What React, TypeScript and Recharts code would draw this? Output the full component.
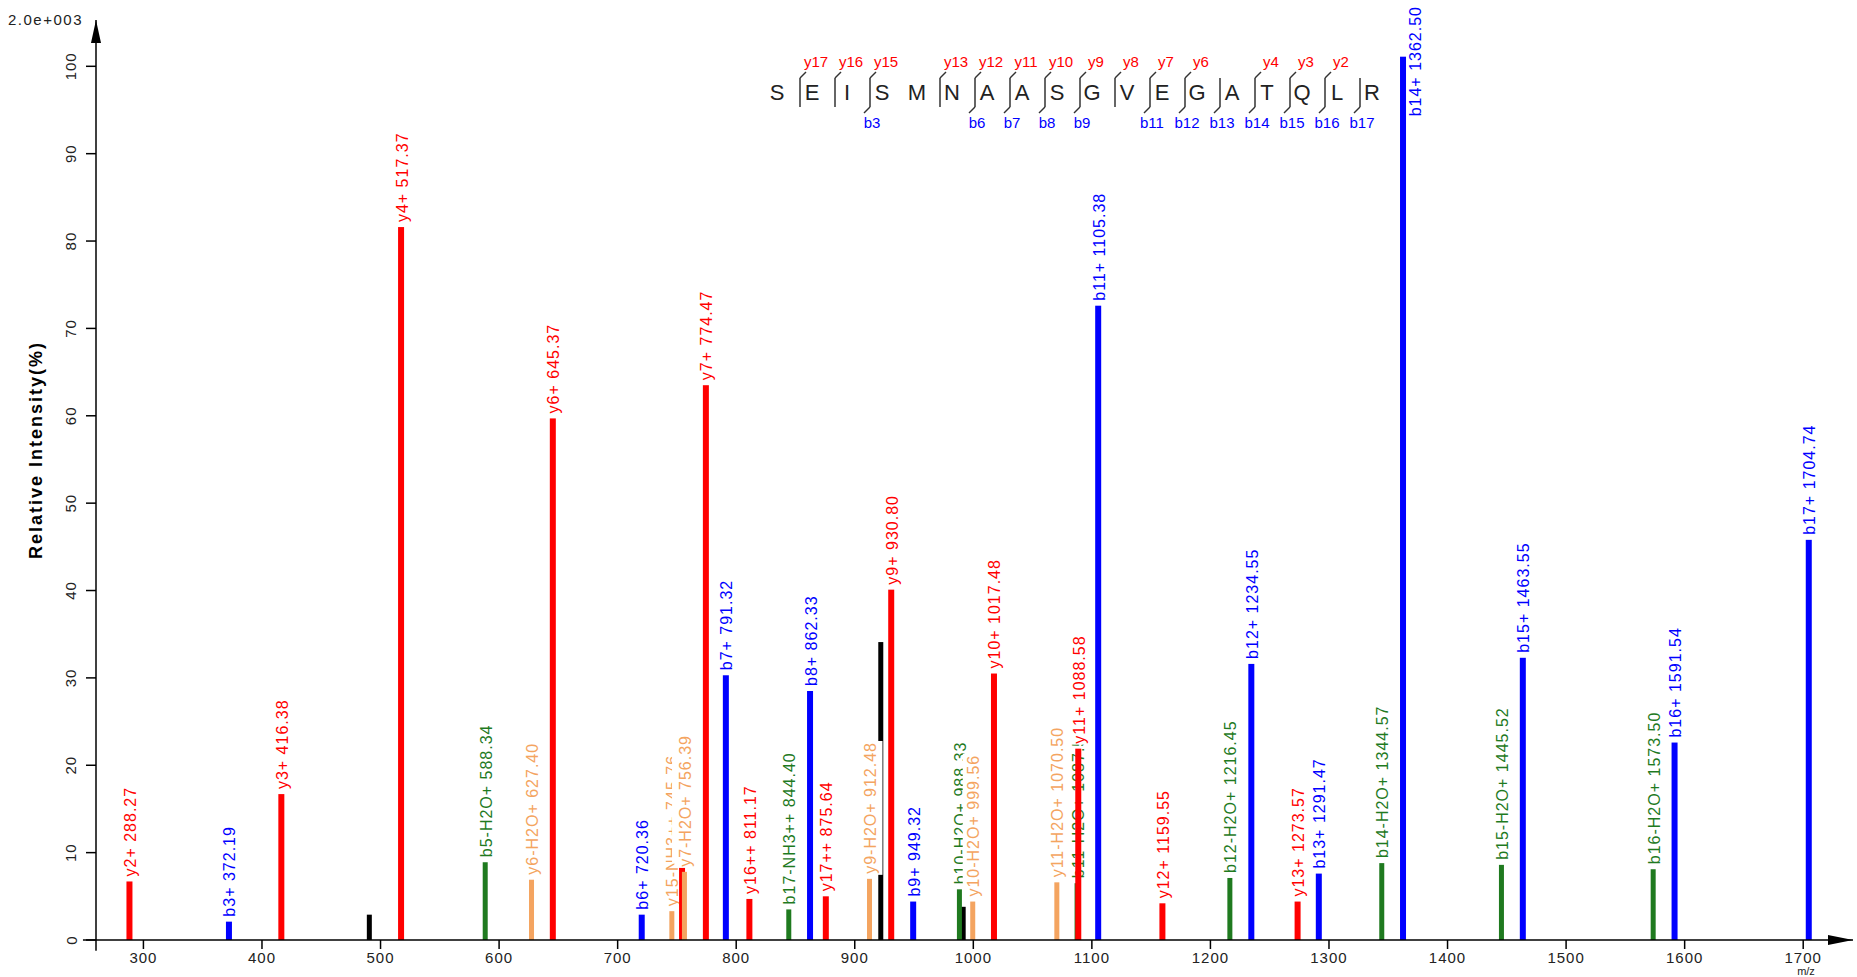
import React from "react";
import { BarChart, Bar, XAxis, YAxis, ReferenceLine, ReferenceDot } from "recharts";

// matched fragment ions
const ionMz = [
  288.27, 372.19, 416.38, 517.37, 588.34, 627.4, 645.37, 720.36, 745.76, 754.37,
  756.39, 774.47, 791.32, 811.17, 844.4, 862.33, 875.64, 912.48, 930.8, 949.32,
  988.33, 999.56, 1017.48, 1070.5, 1087.57, 1088.58, 1105.38, 1159.55, 1216.45, 1234.55,
  1273.57, 1291.47, 1344.57, 1362.5, 1445.52, 1463.55, 1573.5, 1591.54, 1704.74,
];
const ionIntensity = [
  6.7, 2.1, 16.7, 81.6, 8.9, 6.9, 59.7, 2.9, 3.3, 8.3,
  7.8, 63.5, 30.3, 4.7, 3.5, 28.5, 5.0, 7.0, 40.1, 4.4,
  5.8, 4.4, 30.5, 6.6, 6.5, 21.9, 72.6, 4.2, 7.1, 31.6,
  4.4, 7.6, 8.8, 101.1, 8.6, 32.3, 8.1, 22.6, 45.8,
];
const ionLabel = [
  "y2+ 288.27", "b3+ 372.19", "y3+ 416.38", "y4+ 517.37", "b5-H2O+ 588.34",
  "y6-H2O+ 627.40", "y6+ 645.37", "b6+ 720.36", "y15-NH3++ 745.76", "y15++ 754.37",
  "y7-H2O+ 756.39", "y7+ 774.47", "b7+ 791.32", "y16++ 811.17", "b17-NH3++ 844.40",
  "b8+ 862.33", "y17++ 875.64", "y9-H2O+ 912.48", "y9+ 930.80", "b9+ 949.32",
  "b10-H2O+ 988.33", "y10-H2O+ 999.56", "y10+ 1017.48", "y11-H2O+ 1070.50", "b11-H2O+ 1087.57",
  "y11+ 1088.58", "b11+ 1105.38", "y12+ 1159.55", "b12-H2O+ 1216.45", "b12+ 1234.55",
  "y13+ 1273.57", "b13+ 1291.47", "b14-H2O+ 1344.57", "b14+ 1362.50", "b15-H2O+ 1445.52",
  "b15+ 1463.55", "b16-H2O+ 1573.50", "b16+ 1591.54", "b17+ 1704.74",
];
const ionKind = [
  "y", "b", "y", "y", "bl", "yl", "y", "b", "yl", "y",
  "yl", "y", "b", "y", "bl", "b", "y", "yl", "y", "b",
  "bl", "yl", "y", "yl", "bl", "y", "b", "y", "bl", "b",
  "y", "b", "bl", "b", "bl", "b", "bl", "b", "b",
];

// unassigned peaks (drawn first, so labels may cover them)
const unmatchedMz = [490.6, 922.0, 991.5];
const unmatchedIntensity = [2.9, 34.1, 3.8];

const xTicks = [300, 400, 500, 600, 700, 800, 900, 1000, 1100, 1200, 1300, 1400, 1500, 1600, 1700];
const yTicks = [0, 10, 20, 30, 40, 50, 60, 70, 80, 90, 100];

const residues = ["S", "E", "I", "S", "M", "N", "A", "A", "S", "G", "V", "E", "G", "A", "T", "Q", "L", "R"];
const yBreaks = [17, 16, 15, 13, 12, 11, 10, 9, 8, 7, 6, 4, 3, 2];
const bBreaks = [3, 6, 7, 8, 9, 11, 12, 13, 14, 15, 16, 17];

const kindColor: Record<string, string> = {
  y: "#FF0000",
  b: "#0000FF",
  bl: "#1F7A1F",
  yl: "#F4A460",
  none: "#000000",
};

const peaks = [
  ...unmatchedMz.map((mz, i) => ({ mz, intensity: unmatchedIntensity[i], label: "", kind: "none" })),
  ...ionMz.map((mz, i) => ({ mz, intensity: ionIntensity[i], label: ionLabel[i], kind: ionKind[i] })),
];

const FONT = "'Liberation Sans', Arial, sans-serif";
const LABEL_SIZE = 16;
const LABEL_SPACING = 1;

let measureCtx: CanvasRenderingContext2D | null = null;
const textWidth = (s: string) => {
  if (!measureCtx) {
    measureCtx = document.createElement("canvas").getContext("2d");
  }
  if (!measureCtx) return s.length * 9;
  measureCtx.font = `${LABEL_SIZE}px ${FONT}`;
  return measureCtx.measureText(s).width + s.length * LABEL_SPACING;
};

const PeakShape = (props: any) => {
  const { x, y, width, height, payload } = props;
  const cx = x + width / 2;
  const w = payload.kind === "y" || payload.kind === "b" ? 6 : 5;
  const color = kindColor[payload.kind];
  const label: string = payload.label;
  const len = label ? textWidth(label) : 0;
  // no room above the peak: the label goes beside it, hanging from the top edge
  const beside = label && y - 5 - len < 4;
  return (
    <g>
      <rect x={cx - w / 2} y={y} width={w} height={height} fill={color} />
      {label && !beside && (
        <g transform={`translate(${cx + 1},${y - 5}) rotate(-90)`}>
          <rect x={-1} y={-11} width={len + 2} height={23} fill="#ffffff" />
          <text
            x={0}
            y={0}
            dominantBaseline="central"
            fontSize={LABEL_SIZE}
            letterSpacing={LABEL_SPACING}
            fontFamily={FONT}
            fill={color}
          >
            {label}
          </text>
        </g>
      )}
      {label && beside && (
        <g transform={`translate(${cx + 12},6) rotate(-90)`}>
          <text
            x={0}
            y={0}
            textAnchor="end"
            dominantBaseline="central"
            fontSize={LABEL_SIZE}
            letterSpacing={LABEL_SPACING}
            fontFamily={FONT}
            fill={color}
          >
            {label}
          </text>
        </g>
      )}
    </g>
  );
};

const XTick = (props: any) => {
  const { x, y, payload } = props;
  return (
    <text x={x} y={y} dy={12} textAnchor="middle" fontSize={15} letterSpacing={1} fontFamily={FONT} fill="#222">
      {payload.value}
    </text>
  );
};

const YTick = (props: any) => {
  const { x, y, payload } = props;
  const tx = x - 13;
  return (
    <text
      x={tx}
      y={y}
      transform={`rotate(-90 ${tx} ${y})`}
      textAnchor="middle"
      dominantBaseline="central"
      fontSize={15}
      letterSpacing={1}
      fontFamily={FONT}
      fill="#222"
    >
      {payload.value}
    </text>
  );
};

const XArrow = (p: any) => (
  <path d={`M${p.cx},${p.cy} L${p.cx - 25},${p.cy - 5} L${p.cx - 25},${p.cy + 5} Z`} fill="#000" />
);
const YArrow = (p: any) => (
  <path d={`M${p.cx},${p.cy} L${p.cx - 5},${p.cy + 23} L${p.cx + 5},${p.cy + 23} Z`} fill="#000" />
);

const seqX0 = 777;
const seqStep = 35;

const SequenceOverlay = () => (
  <svg width={1857} height={977} style={{ position: "absolute", left: 0, top: 0, pointerEvents: "none" }}>
    {residues.map((r, i) => (
      <text key={`r${i}`} x={seqX0 + seqStep * i} y={100} textAnchor="middle" fontSize={22} fontFamily={FONT} fill="#222">
        {r}
      </text>
    ))}
    {residues.slice(1).map((_, j) => {
      const k = j + 1;
      const yIdx = residues.length - k;
      const hasY = yBreaks.includes(yIdx);
      const hasB = bBreaks.includes(k);
      if (!hasY && !hasB) return null;
      const lx = seqX0 + seqStep * k - 12;
      return (
        <g key={`k${k}`} stroke="#333" strokeWidth={1.5} fill="none">
          <line x1={lx} y1={78} x2={lx} y2={107} />
          {hasY && <line x1={lx} y1={78} x2={lx + 6} y2={72} />}
          {hasB && <line x1={lx} y1={107} x2={lx - 6} y2={113} />}
          {hasY && (
            <text x={lx + 16} y={67} textAnchor="middle" fontSize={15} fontFamily={FONT} fill="#FF0000" stroke="none">
              {`y${yIdx}`}
            </text>
          )}
          {hasB && (
            <text x={lx + 2} y={128} textAnchor="middle" fontSize={15} fontFamily={FONT} fill="#0000FF" stroke="none">
              {`b${k}`}
            </text>
          )}
        </g>
      );
    })}
    <text x={8} y={25} fontSize={15} letterSpacing={1.5} fontFamily={FONT} fill="#222">
      2.0e+003
    </text>
    <text
      x={36}
      y={450}
      transform="rotate(-90 36 450)"
      textAnchor="middle"
      dominantBaseline="central"
      fontSize={18}
      fontWeight="bold"
      letterSpacing={2}
      fontFamily={FONT}
      fill="#000"
    >
      Relative  Intensity(%)
    </text>
    <text x={1806} y={975} textAnchor="middle" fontSize={11} fontFamily={FONT} fill="#222">
      m/z
    </text>
  </svg>
);

export default function App() {
  return (
    <div style={{ position: "relative", width: 1857, height: 977, background: "#fff" }}>
      <style>{"body{margin:0;}"}</style>
      <BarChart width={1857} height={977} data={peaks} margin={{ top: 20, right: 4, bottom: 0, left: 0 }}>
        <XAxis
          type="number"
          dataKey="mz"
          domain={[260, 1742]}
          ticks={xTicks}
          height={37}
          axisLine={false}
          tickLine={{ stroke: "#000", strokeWidth: 1.5 }}
          tickSize={9}
          tick={<XTick />}
          interval={0}
        />
        <YAxis
          type="number"
          domain={[0, 105.3]}
          ticks={yTicks}
          width={96}
          axisLine={false}
          tickLine={{ stroke: "#000", strokeWidth: 1.5 }}
          tickSize={10}
          tick={<YTick />}
          interval={0}
        />
        <Bar dataKey="intensity" barSize={6} shape={PeakShape} isAnimationActive={false} />
        <ReferenceLine
          segment={[{ x: 249, y: 0 }, { x: 1742, y: 0 }]}
          stroke="#000"
          strokeWidth={1.5}
          ifOverflow="visible"
        />
        <ReferenceLine
          segment={[{ x: 260, y: -1.22 }, { x: 260, y: 105.3 }]}
          stroke="#000"
          strokeWidth={1.5}
          ifOverflow="visible"
        />
        <ReferenceDot x={1742} y={0} ifOverflow="visible" shape={XArrow} />
        <ReferenceDot x={260} y={105.3} ifOverflow="visible" shape={YArrow} />
      </BarChart>
      <SequenceOverlay />
    </div>
  );
}
